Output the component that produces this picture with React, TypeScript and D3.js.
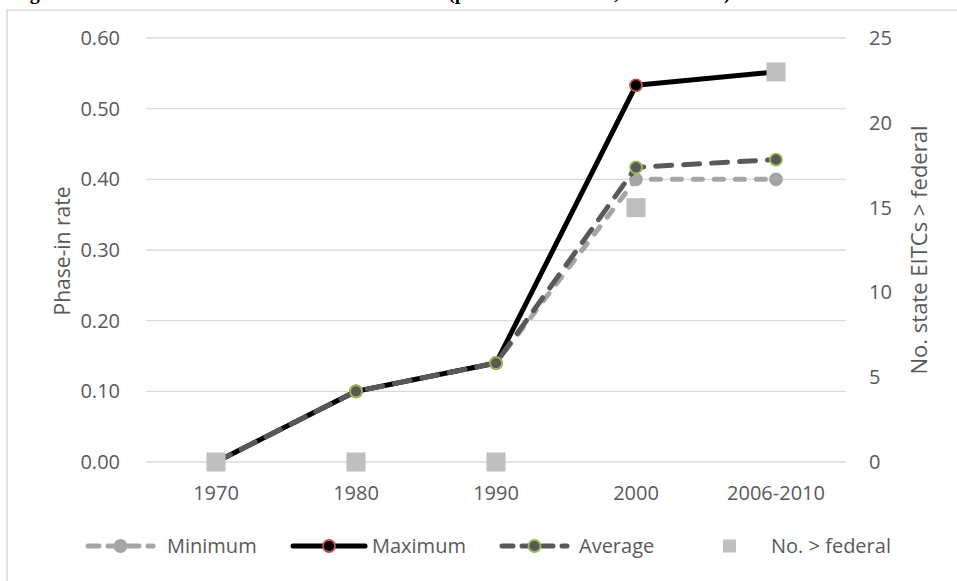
import React from 'react'
import * as d3 from 'd3'

const width = 957
const height = 581

// chart data
const years = ['1970', '1980', '1990', '2000', '2006-2010']
const minimum = [0, 0.1, 0.14, 0.4, 0.4]
const maximum = [0, 0.1, 0.14, 0.533, 0.552]
const average = [0, 0.1, 0.14, 0.417, 0.428]
const aboveFederal = [0, 0, 0, 15, 23]
const leftTicks = [0, 0.1, 0.2, 0.3, 0.4, 0.5, 0.6]
const rightTicks = [0, 5, 10, 15, 20, 25]

const font = "'Open Sans', sans-serif"
const textColor = '#595959'
const gridColor = '#d9d9d9'

export default function App() {
  const x = d3.scaleBand<string>().domain(years).range([146, 846])
  const cx = (d: string) => (x(d) || 0) + x.bandwidth() / 2
  const yL = d3.scaleLinear().domain([0, 0.6]).range([462, 38])
  const yR = d3.scaleLinear().domain([0, 25]).range([462, 38])

  const line = (vals: number[]) =>
    d3
      .line<number>()
      .x((_, i) => cx(years[i]))
      .y((v) => yL(v))(vals) || ''

  const series = [
    { name: 'Minimum', vals: minimum, stroke: '#a5a5a5', dash: '9 12', w: 5, fill: '#a5a5a5', ring: '#a5a5a5' },
    { name: 'Maximum', vals: maximum, stroke: '#000000', dash: null, w: 5, fill: '#000000', ring: '#c0504d' },
    { name: 'Average', vals: average, stroke: '#595959', dash: '16 12', w: 5, fill: '#595959', ring: '#9bbb59' },
  ]

  const sq = 19
  const legendY = 546
  const legendItems = [
    { x0: 88, x1: 153, tx: 167, s: series[0] },
    { x0: 293, x1: 365, tx: 372, s: series[1] },
    { x0: 502, x1: 567, tx: 579, s: series[2] },
  ]

  return (
    <svg
      width={width}
      height={height}
      style={{ position: 'absolute', left: 0, top: 0, background: '#fff' }}
    >
      {/* cut-off caption above the chart frame */}
      <text y={-1} fontFamily="'Liberation Serif', serif" fontWeight="bold" fontSize={20} fill="#000">
        <tspan x={12}>Figure 8. State EITC rates above the federal rate</tspan>
        <tspan x={448}>(phase-in rate</tspan>
        <tspan x={614}>, 2010</tspan>
        <tspan x={724}>)</tspan>
      </text>
      <rect x={7} y={10} width={1000} height={620} fill="none" stroke={gridColor} strokeWidth={1.5} />

      {/* gridlines */}
      {leftTicks.map((t) => (
        <line key={t} x1={146} x2={846} y1={yL(t)} y2={yL(t)} stroke={gridColor} strokeWidth={1.3} />
      ))}

      {/* left axis labels */}
      {leftTicks.map((t) => (
        <text key={t} x={120} y={yL(t)} dy="0.35em" textAnchor="end" fontFamily={font} fontSize={20} fill={textColor}>
          {t.toFixed(2)}
        </text>
      ))}
      {/* right axis labels */}
      {rightTicks.map((t) => (
        <text key={t} x={869} y={yR(t)} dy="0.35em" fontFamily={font} fontSize={20} fill={textColor}>
          {t}
        </text>
      ))}
      {/* category labels */}
      {years.map((d) => (
        <text key={d} x={cx(d)} y={500} textAnchor="middle" fontFamily={font} fontSize={20} fill={textColor}>
          {d}
        </text>
      ))}

      <text transform="translate(70,251) rotate(-90)" textAnchor="middle" fontFamily={font} fontSize={21} fill={textColor}>
        Phase-in rate
      </text>
      <text transform="translate(927,250) rotate(-90)" textAnchor="middle" fontFamily={font} fontSize={22} fill={textColor}>
        No. state EITCs &gt; federal
      </text>

      {/* lines and markers */}
      {series.map((s) => (
        <g key={s.name}>
          <path
            d={line(s.vals)}
            fill="none"
            stroke={s.stroke}
            strokeWidth={s.w}
            strokeDasharray={s.dash || undefined}
            strokeLinecap={s.dash ? 'round' : 'butt'}
            strokeLinejoin="round"
          />
          {s.vals.map((v, i) => (
            <circle key={i} cx={cx(years[i])} cy={yL(v)} r={6} fill={s.fill} stroke={s.ring} strokeWidth={1.8} />
          ))}
        </g>
      ))}

      {/* number of states above federal, right axis */}
      {aboveFederal.map((v, i) => (
        <rect key={i} x={cx(years[i]) - sq / 2} y={yR(v) - sq / 2} width={sq} height={sq} fill="#bfbfbf" />
      ))}

      {/* legend */}
      {legendItems.map((it) => (
        <g key={it.s.name}>
          <line
            x1={it.x0}
            x2={it.x1}
            y1={legendY}
            y2={legendY}
            stroke={it.s.stroke}
            strokeWidth={it.s.w}
            strokeDasharray={it.s.dash ? '11 9' : undefined}
            strokeLinecap="round"
          />
          <circle cx={(it.x0 + it.x1) / 2} cy={legendY} r={6} fill={it.s.fill} stroke={it.s.ring} strokeWidth={1.8} />
          <text x={it.tx} y={legendY} dy="0.35em" fontFamily={font} fontSize={20} fill={textColor}>
            {it.s.name}
          </text>
        </g>
      ))}
      <rect x={723} y={legendY - 6.5} width={13} height={13} fill="#bfbfbf" />
      <text x={771} y={legendY} dy="0.35em" fontFamily={font} fontSize={20} fill={textColor}>
        No. &gt; federal
      </text>
    </svg>
  )
}
